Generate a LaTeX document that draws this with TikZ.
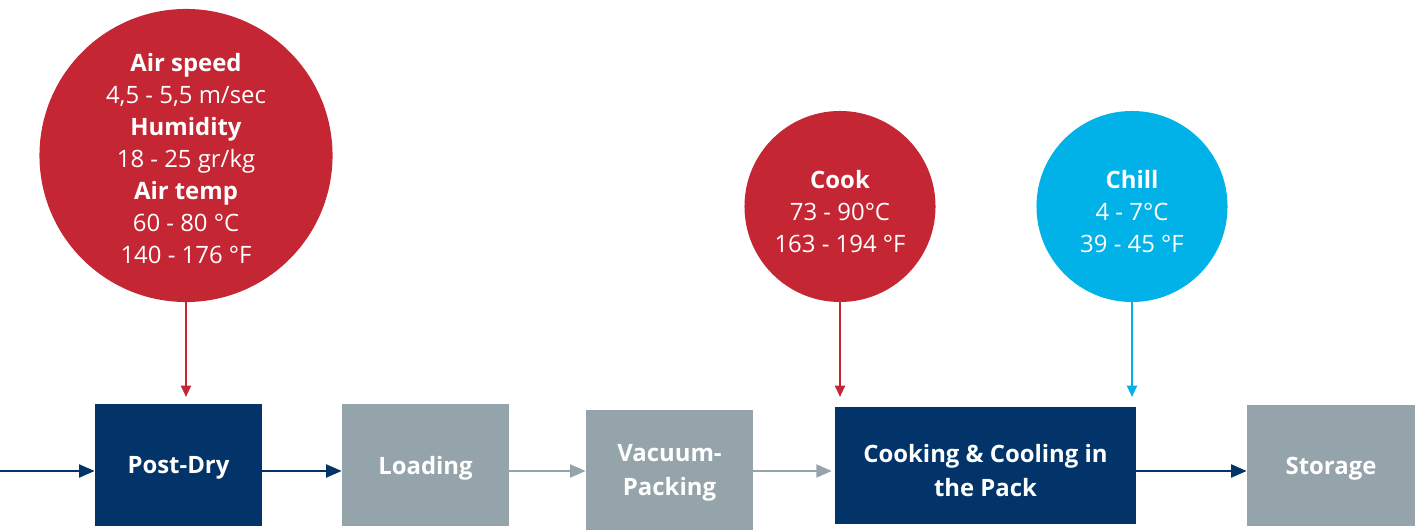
\documentclass[tikz,border=0pt]{standalone}
\usepackage{fontspec}
\setmainfont{Open Sans}
\usetikzlibrary{arrows.meta}
\definecolor{dryred}{HTML}{C52633}
\definecolor{packnavy}{HTML}{02346A}
\definecolor{stagegray}{HTML}{95A3AB}
\definecolor{chillblue}{HTML}{00B2E8}
\newcommand{\diagfont}{\fontsize{17pt}{22.8pt}\selectfont}
\newcommand{\stagefont}{\fontsize{17pt}{24.2pt}\selectfont\bfseries}
\tikzset{
  stage/.style={fill=#1, text=white, font=\stagefont, inner sep=0pt, text depth=0pt, align=center},
  setting/.style={circle, fill=#1, text=white, font=\diagfont, inner sep=0pt, align=center},
  flow/.style={->, line width=2pt, draw=#1},
  feed/.style={-{Triangle[length=8pt,width=7pt]}, line width=1.5pt, draw=#1},
}

\begin{document}
\begin{tikzpicture}[x=0.025cm, y=-0.025cm, >={Triangle[length=11pt,width=9pt]}]
\useasboundingbox (0,0) rectangle (1415,530);

% settings in the circles
\node (air) at (186,155.5) [setting=dryred, minimum size=7.325cm] {\rule{0pt}{17pt}\textbf{Air speed}\\4,5 - 5,5 m/sec\\\textbf{Humidity}\\18 - 25 gr/kg\\\textbf{Air temp}\\60 - 80 °C\\140 - 176 °F};
\node (cook) at (840,206.5) [setting=dryred, minimum size=4.775cm] {\rule{0pt}{20pt}\textbf{Cook}\\73 - 90°C\\163 - 194 °F};
\node (chill) at (1132,206.5) [setting=chillblue, minimum size=4.775cm] {\rule{0pt}{20pt}\textbf{Chill}\\4 - 7°C\\39 - 45 °F};

% process steps
\node (postdry) at (178.5,465) [stage=packnavy, minimum width=4.175cm, minimum height=3.05cm] {Post-Dry};
\node (loading) at (425.5,465) [stage=stagegray, minimum width=4.175cm, minimum height=3.05cm] {Loading};
\node (vacuum) at (669.5,470) [stage=stagegray, minimum width=4.175cm, minimum height=3cm] {Vacuum-\\Packing};
\node (cooking) at (985.5,465.5) [stage=packnavy, minimum width=7.525cm, minimum height=2.925cm] {\rule{0pt}{19.5pt}Cooking \& Cooling in\\the Pack};
\node (storage) at (1331,465.5) [stage=stagegray, minimum width=4.2cm, minimum height=3.025cm] {Storage};

\coordinate (start) at (0,471);
\coordinate (tips) at (0,397);

\draw[flow=packnavy] (start) -- (postdry.west |- start);
\draw[flow=packnavy] (postdry.east |- start) -- (loading.west |- start);
\draw[flow=stagegray] (loading.east |- start) -- (vacuum.west |- start);
\draw[flow=stagegray] (vacuum.east |- start) -- ([xshift=-2pt]cooking.west |- start);
\draw[flow=packnavy] (cooking.east |- start) -- (storage.west |- start);

\draw[feed=dryred] (air.south) -- (air.south |- tips);
\draw[feed=dryred] (cook.south) -- (cook.south |- tips);
\draw[feed=chillblue] (chill.south) -- (chill.south |- tips);
\end{tikzpicture}
\end{document}
